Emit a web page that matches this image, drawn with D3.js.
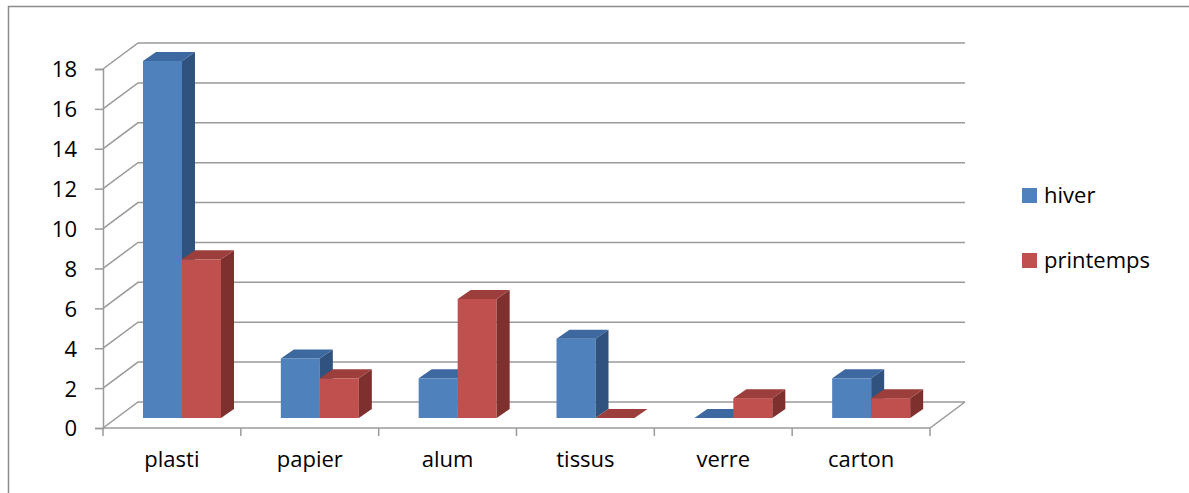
<!DOCTYPE html>
<html><head><meta charset="utf-8">
<script src="https://cdn.jsdelivr.net/npm/d3@7"></script>
<style>
html,body{margin:0;padding:0;background:#fff;}
svg{display:block;font-family:"Open Sans",Lato,sans-serif;}
</style></head>
<body><svg id="c" width="1189" height="493"></svg>
<script>
const categories = ["plasti","papier","alum","tissus","verre","carton"];
const seriesNames = ["hiver","printemps"];
const hiver = [18,3,2,4,0,2];
const printemps = [8,2,6,0,1,1];
const yTicks = [0,2,4,6,8,10,12,14,16,18];

const colors = {
  hiver:{front:"#4F81BD", top:"#3E68A0", side:"#30527E"},
  printemps:{front:"#C0504D", top:"#9C3E3B", side:"#7E302E"}
};
const FONT = "'Open Sans'";
const FS = 22;

const svg = d3.select("#c");
svg.append("path").attr("d","M8.5,493 V6.5 H1189").attr("fill","none").attr("stroke","#8c8c8c").attr("stroke-width",1.5);

const X0 = 103, X1 = 930, Y0 = 428;
const wallDx = 35, wallDy = -26;
const yFront = d3.scaleLinear().domain([0,18]).range([Y0,69]);
const xFront = d3.scaleBand().domain(categories).range([X0,X1]);
const barDx = 10;
const yBar = d3.scaleLinear().domain([0,18]).range([418,61]);
const xBar = d3.scaleBand().domain(categories).range([X0+barDx, X1+barDx]);
const xSeries = d3.scaleBand().domain(seriesNames).range([30,108]);
const depthDx = 13, depthDy = -9;

const grid = "#9a9a9a";
const g = svg.append("g");
yTicks.forEach(t=>{
  const y = yFront(t);
  g.append("path").attr("d",`M${X0},${y} L${X0+wallDx},${y+wallDy} L${X1+wallDx},${y+wallDy}`)
   .attr("fill","none").attr("stroke",grid).attr("stroke-width",1.5);
});
g.append("path").attr("d",`M${X0},${Y0} L${X1},${Y0} L${X1+wallDx},${Y0+wallDy}`)
  .attr("fill","none").attr("stroke",grid).attr("stroke-width",1.5);
const yAxis = d3.axisLeft(yFront).tickValues(yTicks).tickSize(8).tickPadding(18);
const ya = svg.append("g").attr("transform",`translate(${X0},0)`).call(yAxis);
ya.select(".domain").attr("stroke",grid).attr("stroke-width",1.5);
ya.selectAll(".tick line").attr("stroke",grid).attr("stroke-width",1.5);
ya.selectAll(".tick text").attr("font-size",FS).attr("fill","#000").attr("font-family",FONT).attr("dy","0.36em");
const bounds = categories.map(c=>xFront(c)).concat([X1]);
bounds.forEach(x=>{
  g.append("line").attr("x1",x).attr("x2",x).attr("y1",Y0).attr("y2",Y0+8).attr("stroke",grid).attr("stroke-width",1.5);
});
const xAxis = d3.axisBottom(xFront).tickSize(0).tickPadding(23);
const xa = svg.append("g").attr("transform",`translate(0,${Y0})`).call(xAxis);
xa.select(".domain").remove();
xa.selectAll(".tick text").attr("font-size",FS).attr("fill","#000").attr("font-family",FONT);

const bars = svg.append("g");
categories.forEach((c,i)=>{
  seriesNames.forEach(s=>{
    const v = (s==="hiver"?hiver:printemps)[i];
    const col = colors[s];
    const x = xBar(c)+xSeries(s), w = xSeries.bandwidth();
    const yt = yBar(v), yb = yBar(0);
    if (v>0) {
      bars.append("rect").attr("x",x).attr("y",yt).attr("width",w).attr("height",yb-yt).attr("fill",col.front);
      bars.append("path").attr("d",`M${x+w},${yt} L${x+w+depthDx},${yt+depthDy} L${x+w+depthDx},${yb+depthDy} L${x+w},${yb}Z`).attr("fill",col.side);
    }
    bars.append("path").attr("d",`M${x},${yt} L${x+depthDx},${yt+depthDy} L${x+w+depthDx},${yt+depthDy} L${x+w},${yt}Z`).attr("fill",col.top);
  });
});

const leg = svg.append("g");
seriesNames.forEach((s,i)=>{
  const y = 188 + i*65;
  leg.append("rect").attr("x",1022).attr("y",y).attr("width",15).attr("height",15).attr("fill",colors[s].front);
  leg.append("text").attr("x",1044).attr("y",y+15).attr("font-size",FS).attr("font-family",FONT).attr("fill","#000").text(s);
});
</script></body></html>
